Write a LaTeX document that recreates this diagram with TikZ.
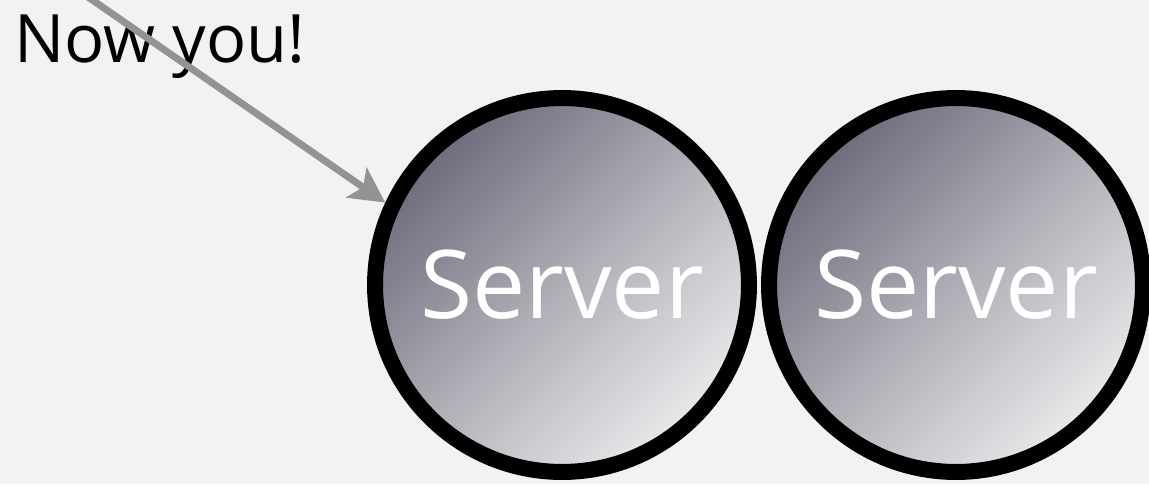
\documentclass[tikz,border=0pt]{standalone}
\usepackage{fontspec}
\setmainfont{Open Sans}
\usetikzlibrary{arrows.meta}
\definecolor{fundo}{HTML}{F2F2F2}
\definecolor{srvDark}{HTML}{6C6C7C}
\definecolor{srvMid}{HTML}{AEAEB6}
\definecolor{srvLight}{HTML}{EAEAEC}
\definecolor{seta}{HTML}{939393}

\begin{document}
\begin{tikzpicture}[x=0.02cm, y=0.02cm,
  serv/.style={circle, draw=black, line width=0.32cm, minimum size=7.48cm, inner sep=0pt,
    top color=srvDark, bottom color=srvLight, middle color=srvMid, shading angle=45,
    text=white, font=\fontsize{54}{60}\selectfont}]
\fill[fundo] (0,0) rectangle (1149,484);
\useasboundingbox (0,0) rectangle (1149,484);

\node[serv](server1) at (562,199){Server};
\node[serv](server2) at (956,199){Server};
\node[anchor=base west, inner sep=0pt, font=\fontsize{38}{44}\selectfont](nowyou) at (14,421){Now you!};

\coordinate (start) at (20,534);
\draw[line width=0.14cm, seta, -{Stealth[length=0.7cm, width=0.72cm, inset=0.16cm]}] (start) -- (server1.155);

\end{tikzpicture}
\end{document}
